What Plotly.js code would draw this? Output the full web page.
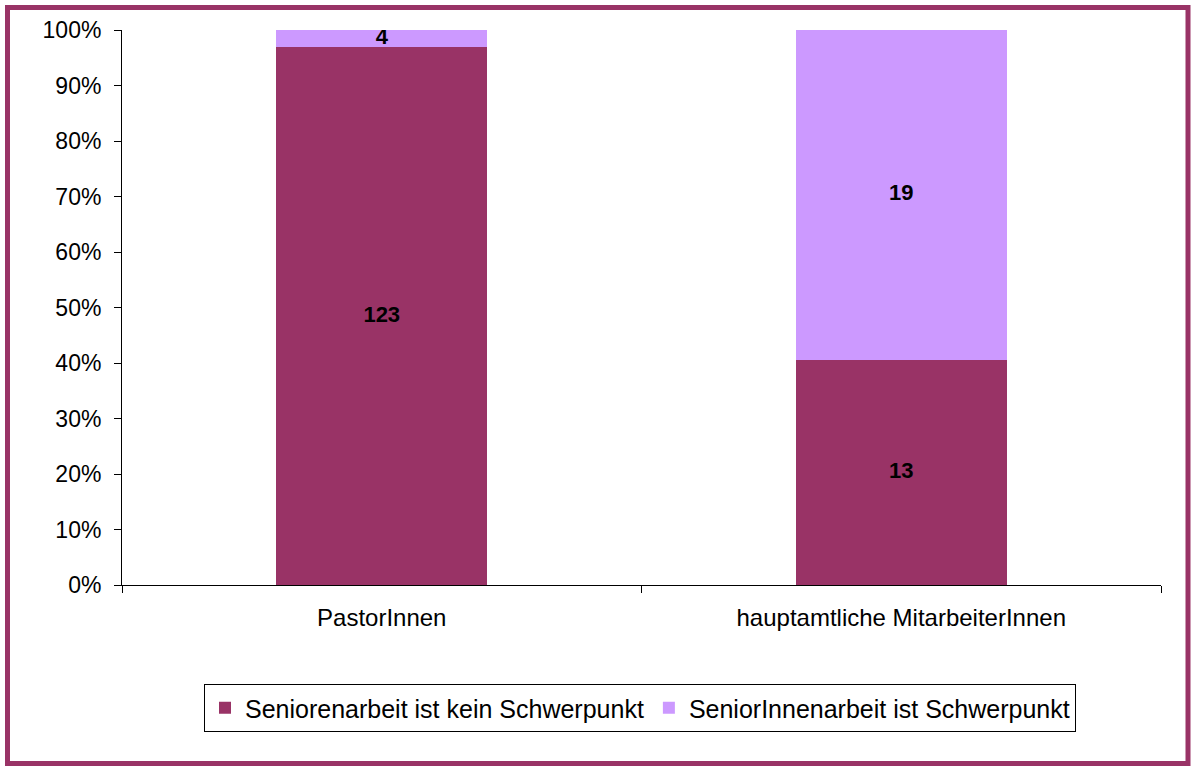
<!DOCTYPE html>
<html>
<head>
<meta charset="utf-8">
<script src="https://cdn.plot.ly/plotly-3.0.1.min.js"></script>
<style>
html,body{margin:0;padding:0;background:#fff;}
#chart{width:1191px;height:767px;}
</style>
</head>
<body>
<div id="chart"></div>
<script>
const categories = ["PastorInnen", "hauptamtliche MitarbeiterInnen"];
const seriesNames = ["Seniorenarbeit ist kein Schwerpunkt", "SeniorInnenarbeit ist Schwerpunkt"];
const keinSchwerpunkt = [123, 13];
const schwerpunkt = [4, 19];
const yTickVals = [0, 10, 20, 30, 40, 50, 60, 70, 80, 90, 100];

const colors = ["#993366", "#CC99FF"];

const totals = categories.map((c, i) => keinSchwerpunkt[i] + schwerpunkt[i]);
const pct1 = keinSchwerpunkt.map((v, i) => v / totals[i] * 100);
const pct2 = schwerpunkt.map((v, i) => v / totals[i] * 100);

const labelFont = {family: "Liberation Sans, Arial, sans-serif", size: 22, color: "#000", weight: "bold"};

const traces = [
  {type: "bar", name: seriesNames[0], x: categories, y: pct1, marker: {color: colors[0]},
   hoverinfo: "skip"},
  {type: "bar", name: seriesNames[1], x: categories, y: pct2, marker: {color: colors[1]},
   hoverinfo: "skip"},
  {type: "scatter", mode: "text", showlegend: false, x: categories,
   y: pct1.map(v => v / 2), text: keinSchwerpunkt.map(String),
   textfont: labelFont, hoverinfo: "skip"},
  {type: "scatter", mode: "text", showlegend: false, x: categories,
   y: pct1.map((v, i) => v + pct2[i] / 2), text: schwerpunkt.map(String),
   textfont: labelFont, hoverinfo: "skip"}
];

const L = 122, R = 30, T = 30, B = 182, W = 1191, H = 767;
const pw = W - L - R, ph = H - T - B;
const px = x => (x - L) / pw;
const py = y => (H - B - y) / ph;

const layout = {
  width: W, height: H,
  margin: {l: L, r: R, t: T, b: B},
  paper_bgcolor: "#fff", plot_bgcolor: "#fff",
  font: {family: "Liberation Sans, Arial, sans-serif", size: 24, color: "#000"},
  barmode: "stack",
  bargap: 0.594,
  showlegend: true,
  legend: {
    orientation: "h", x: px(640), xanchor: "center", y: py(684), yanchor: "top",
    bordercolor: "#000", borderwidth: 1, bgcolor: "#fff",
    font: {size: 25}, traceorder: "normal", itemclick: false,
    itemwidth: 30
  },
  xaxis: {
    type: "category", showline: true, linecolor: "#000", linewidth: 1,
    ticks: "outside", tickson: "boundaries", ticklen: 7, tickcolor: "#000",
    showgrid: false, zeroline: false, fixedrange: true,
    tickfont: {size: 24}, ticklabelstandoff: 11
  },
  yaxis: {
    range: [0, 100], tickvals: yTickVals, ticktext: yTickVals.map(v => v + "%"),
    showline: true, linecolor: "#000", linewidth: 1,
    ticks: "outside", ticklen: 7, tickcolor: "#000",
    showgrid: false, zeroline: false, fixedrange: true,
    tickfont: {size: 23}, ticklabelstandoff: 8
  },
  shapes: [{
    type: "rect", xref: "paper", yref: "paper",
    x0: px(7.5), x1: px(1188), y0: py(763.5), y1: py(7.5),
    line: {color: "#993366", width: 5}, fillcolor: "rgba(0,0,0,0)", layer: "above"
  }]
};

Plotly.newPlot("chart", traces, layout, {displayModeBar: false, staticPlot: true});
</script>
</body>
</html>
